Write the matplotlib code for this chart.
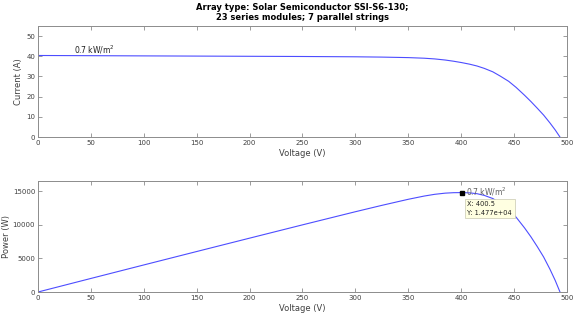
import matplotlib
matplotlib.use("Agg")
import matplotlib.pyplot as plt

# ============================================================
# DATA
# ============================================================

voltage = [0, 50, 100, 150, 200, 250, 300, 325, 350, 365, 375, 385, 393, 400.5,
           408, 415, 422, 430, 437, 445, 452, 460, 466, 472, 478, 484, 489, 493.5]
current = [40.4, 40.3, 40.2, 40.1, 40.0, 39.9, 39.75, 39.6, 39.35, 39.05, 38.7, 38.15, 37.55, 36.88,
           36.1, 35.2, 34.0, 32.3, 30.2, 27.6, 24.6, 20.7, 17.6, 14.3, 10.9, 7.0, 3.5, 0.0]
power = [0, 2015, 4020, 6015, 8000, 9975, 11925, 12870, 13773, 14253, 14513, 14688, 14757, 14770,
         14729, 14608, 14348, 13889, 13197, 12282, 11119, 9522, 8202, 6750, 5210, 3388, 1712, 0]

x_ticks = [0, 50, 100, 150, 200, 250, 300, 350, 400, 450, 500]
i_ticks = [0, 10, 20, 30, 40, 50]
p_ticks = [0, 5000, 10000, 15000]

mpp_v = 400.5
mpp_p = 14770

title = "Array type: Solar Semiconductor SSI-S6-130;\n23 series modules; 7 parallel strings"
irr_label = "0.7 kW/m$^2$"

# ============================================================
# STYLE
# ============================================================

line_color = "#4d4dff"
frame_color = "#8c8c8c"
text_color = "#404040"
fs = 5

fig = plt.figure(figsize=(5.73, 3.21), dpi=100)

ax1 = fig.add_axes([0.0663, 0.573, 0.923, 0.346])
ax2 = fig.add_axes([0.0663, 0.0903, 0.923, 0.346])


def style_axes(ax, yticks):
    ax.set_xlim(0, 500)
    ax.set_xticks(x_ticks)
    ax.set_yticks(yticks)
    ax.tick_params(direction="in", length=3, width=0.6, top=True, right=True,
                   colors=frame_color, labelcolor=text_color, labelsize=fs, pad=2)
    for s in ax.spines.values():
        s.set_color(frame_color)
        s.set_linewidth(0.7)


# ============================================================
# I-V
# ============================================================

ax1.plot(voltage, current, color=line_color, linewidth=0.8)
ax1.set_ylim(0, 55)
style_axes(ax1, i_ticks)
ax1.set_xlabel("Voltage (V)", fontsize=6, color=text_color, labelpad=2)
ax1.set_ylabel("Current (A)", fontsize=6, color=text_color, labelpad=2)
ax1.text(34, 41.5, irr_label, fontsize=5.5, color="#202020")
ax1.set_title(title, fontsize=6, fontweight="bold", pad=4)

# ============================================================
# P-V
# ============================================================

ax2.plot(voltage, power, color=line_color, linewidth=0.8)
ax2.set_ylim(0, 16500)
style_axes(ax2, p_ticks)
ax2.set_xlabel("Voltage (V)", fontsize=6, color=text_color, labelpad=2)
ax2.set_ylabel("Power (W)", fontsize=6, color=text_color, labelpad=1)
ax2.text(405, 14300, irr_label, fontsize=5.5, color="#606060")

ax2.plot([mpp_v], [mpp_p], marker="s", color="black", markersize=3.5, linestyle="none")
ax2.annotate(f"X: {mpp_v}\nY: {mpp_p / 1e4:.3f}e+04",
             xy=(mpp_v, mpp_p), xytext=(406, 11500),
             fontsize=4.8, color="#202020", linespacing=1.5,
             bbox=dict(boxstyle="square,pad=0.35", facecolor="#ffffe1",
                       edgecolor="#c8c8b0", linewidth=0.5))

fig.savefig("out.png", dpi=100)
plt.close(fig)
